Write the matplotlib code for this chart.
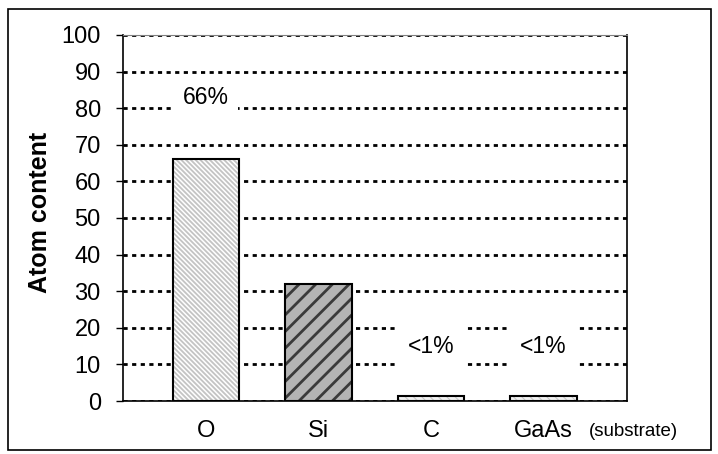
import matplotlib
matplotlib.use("Agg")
import matplotlib.pyplot as plt
from matplotlib.patches import Rectangle

plt.rcParams['font.family'] = ['Liberation Sans', 'DejaVu Sans']

# data
elements = ['O', 'Si', 'C', 'GaAs']
content = [66, 32, 1.5, 1.3]
bar_labels = ['66%', None, '<1%', '<1%']
label_y = [83, None, 15, 15]
yticks = list(range(0, 101, 10))

faces = ['#c4c4c4', '#b4b4b4', '#f2f2f2', '#f2f2f2']
hatch_cols = ['white', '#3a3a3a', '#c8c8c8', '#c8c8c8']
hatches = ['\\' * 7, '//', '\\' * 4, '\\' * 4]
hatch_lw = [1.1, 2.0, 0.8, 0.8]

fig = plt.figure(figsize=(7.18, 4.54), dpi=100)
ax = fig.add_axes([123/718, 1-401/454, 504/718, 366/454])

x = list(range(len(elements)))
for i in x:
    plt.rcParams['hatch.linewidth'] = hatch_lw[i]
    ax.bar(i, content[i], width=0.59, color=faces[i], edgecolor=hatch_cols[i],
           hatch=hatches[i], linewidth=0, zorder=2)
    ax.bar(i, content[i], width=0.59, fill=False, edgecolor='black',
           linewidth=1.5, zorder=3)

for i, lab in enumerate(bar_labels):
    if lab:
        ax.text(i, label_y[i], lab, ha='center', va='center', fontsize=16.5,
                zorder=4, bbox=dict(boxstyle='square,pad=0.4', fc='white', ec='none'))

ax.set_ylim(0, 100)
ax.set_xlim(-0.738, 3.742)
ax.set_yticks(yticks)
ax.set_xticks(x)
ax.set_xticklabels(elements)
ax.tick_params(axis='y', direction='out', length=5, width=1, pad=11, labelsize=17)
ax.tick_params(axis='x', length=0, pad=14, labelsize=17)
ax.yaxis.grid(True, color='black', linewidth=2.0, linestyle=(0, (1.5, 1.6)), zorder=1)
ax.set_axisbelow(True)

for s in ['left', 'right', 'bottom']:
    ax.spines[s].set_color('black')
    ax.spines[s].set_linewidth(1.2)
ax.spines['top'].set_color('#808080')
ax.spines['top'].set_linewidth(0.8)

ax.text(3.4, -0.06, '(substrate)', transform=ax.get_xaxis_transform(),
        ha='left', va='top', fontsize=13.5)

fig.text(40/718, 1-212/454, 'Atom content', rotation=90, ha='center',
         va='center', fontsize=18, fontweight='bold')

fig.patches.append(Rectangle((8/718, 4/454), 703/718, 441/454,
                             transform=fig.transFigure, fill=False,
                             edgecolor='black', linewidth=1.2))

fig.savefig('out.png', dpi=100)
